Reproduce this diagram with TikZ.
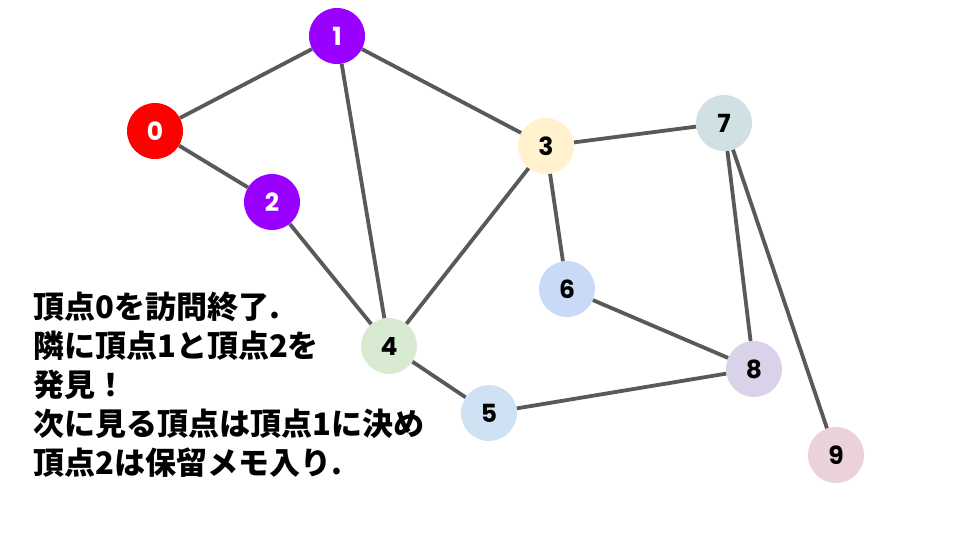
\documentclass[tikz,border=0pt]{standalone}
\usepackage{fontspec}
\setsansfont{Poppins}
\newfontfamily\jpfont{Noto Sans CJK JP}
\definecolor{edgegray}{HTML}{595959}
\definecolor{vred}{HTML}{FF0000}
\definecolor{vpurple}{HTML}{9900FF}
\definecolor{vyellow}{HTML}{FFF2CC}
\definecolor{vgreen}{HTML}{D9EAD3}
\definecolor{vblue}{HTML}{CFE2F3}
\definecolor{vcorn}{HTML}{C9DAF8}
\definecolor{vcyan}{HTML}{D0E0E3}
\definecolor{vlav}{HTML}{D9D2E9}
\definecolor{vpink}{HTML}{EAD1DC}
\begin{document}
\begin{tikzpicture}[x=1pt,y=-1pt]
    \tikzstyle{vertex}=[circle, minimum size=56pt, inner sep=0pt, font=\sffamily\bfseries\fontsize{25}{25}\selectfont]
    \tikzstyle{done}=[vertex, fill=vred, text=white]
    \tikzstyle{found}=[vertex, fill=vpurple, text=white]
    \tikzstyle{edge}=[draw=edgegray, line width=3.8pt]
    \useasboundingbox (0,0) rectangle (960,540);

    \node[done] (v0) at (155,131) {0};
    \node[found] (v1) at (337,36) {1};
    \node[found] (v2) at (272,202) {2};
    \node[vertex, fill=vyellow] (v3) at (546,146) {3};
    \node[vertex, fill=vgreen] (v4) at (389,346) {4};
    \node[vertex, fill=vblue] (v5) at (489,413) {5};
    \node[vertex, fill=vcorn] (v6) at (567,289) {6};
    \node[vertex, fill=vcyan] (v7) at (724,123) {7};
    \node[vertex, fill=vlav] (v8) at (754,369) {8};
    \node[vertex, fill=vpink] (v9) at (836,455) {9};

    \foreach \a/\b in {0/1, 0/2, 1/3, 1/4, 2/4, 3/4, 3/7, 3/6, 4/5, 6/8, 5/8, 7/8, 7/9}
        \draw[edge] (v\a) -- (v\b);

    \node[anchor=north west, align=left, inner sep=0pt, font=\jpfont\bfseries\fontsize{31}{39}\selectfont] (msg) at (33,292)
        {頂点0を訪問終了.\\隣に頂点1と頂点2を\\発見！\\次に見る頂点は頂点1に決め\\頂点2は保留メモ入り.};
\end{tikzpicture}
\end{document}
